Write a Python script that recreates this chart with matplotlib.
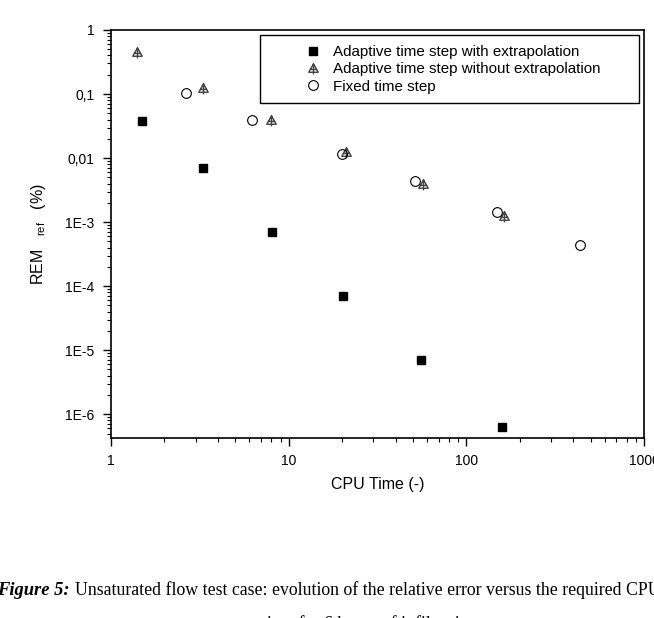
import matplotlib
matplotlib.use('Agg')
import matplotlib.pyplot as plt
from matplotlib.path import Path
from matplotlib.patches import Rectangle
from matplotlib.ticker import FixedLocator, FixedFormatter, LogLocator, NullFormatter

plt.rcParams['font.family'] = ['Liberation Sans', 'DejaVu Sans']
plt.rcParams['mathtext.default'] = 'regular'

# ________DANE_ODCZYTANE_Z_WYKRESU________________________________
cpu_extrap = [1.49, 3.3, 8.05, 20.2, 55.6, 158]
rem_extrap = [0.038, 0.0069, 7.0e-4, 7.0e-5, 7.0e-6, 6.3e-7]

cpu_no_extrap = [1.41, 3.3, 8.0, 21, 57, 163]
rem_no_extrap = [0.45, 0.123, 0.039, 0.0124, 0.0039, 0.00124]

cpu_fixed = [2.63, 6.2, 20, 51.5, 149, 437]
rem_fixed = [0.105, 0.039, 0.0115, 0.0044, 0.00144, 4.4e-4]

x_ticks = [1, 10, 100, 1000]
x_tick_labels = ['1', '10', '100', '1000']
y_ticks = [1, 0.1, 0.01, 1e-3, 1e-4, 1e-5, 1e-6]
y_tick_labels = ['1', '0,1', '0,01', '1E-3', '1E-4', '1E-5', '1E-6']

labels = ['Adaptive time step with extrapolation',
          'Adaptive time step without extrapolation',
          'Fixed time step']

# trojkat z krzyzykiem
tri_cross = Path(
    [(-1, -0.8), (1, -0.8), (0, 1), (-1, -0.8),
     (0, 1), (0, -1.25),
     (-0.75, -0.2), (0.75, -0.2)],
    [Path.MOVETO, Path.LINETO, Path.LINETO, Path.CLOSEPOLY,
     Path.MOVETO, Path.LINETO,
     Path.MOVETO, Path.LINETO])

fig = plt.figure(figsize=(6.54, 6.18), dpi=100)
ax = fig.add_axes([0.1697, 0.2917, 0.815, 0.6598])

ax.plot(cpu_extrap, rem_extrap, 's', color='black', markersize=6.3, label=labels[0])
ax.plot(cpu_no_extrap, rem_no_extrap, linestyle='none', marker=tri_cross, markersize=8.5,
        markerfacecolor='none', markeredgecolor='#444444', markeredgewidth=1.0, label=labels[1])
ax.plot(cpu_fixed, rem_fixed, 'o', markersize=7, markerfacecolor='none',
        markeredgecolor='black', markeredgewidth=0.8, label=labels[2])

ax.set_xscale('log')
ax.set_yscale('log')
ax.set_xlim(1, 1000)
ax.set_ylim(4.3e-7, 1)

ax.xaxis.set_major_locator(FixedLocator(x_ticks))
ax.xaxis.set_major_formatter(FixedFormatter(x_tick_labels))
ax.yaxis.set_major_locator(FixedLocator(y_ticks))
ax.yaxis.set_major_formatter(FixedFormatter(y_tick_labels))
ax.xaxis.set_minor_locator(LogLocator(base=10, subs=range(2, 10)))
ax.yaxis.set_minor_locator(LogLocator(base=10, subs=range(2, 10)))
ax.xaxis.set_minor_formatter(NullFormatter())
ax.yaxis.set_minor_formatter(NullFormatter())

ax.tick_params(which='major', direction='out', length=6, width=1, labelsize=10, pad=6)
ax.tick_params(which='minor', direction='out', length=3, width=0.8)
for s in ax.spines.values():
    s.set_linewidth(1.2)

ax.set_xlabel('CPU Time (-)', fontsize=11.5, labelpad=6)
ax.set_ylabel('REM   $_{ref}$   (%)', fontsize=11.5, labelpad=12)

# ramka legendy
ax.add_patch(Rectangle((0.2795, 0.821), 0.711, 0.167, transform=ax.transAxes,
                       facecolor='white', edgecolor='black', linewidth=1, zorder=3))
leg = ax.legend(loc='upper left', bbox_to_anchor=(0.3652, 0.962), frameon=False,
                fontsize=10.9, handlelength=1, handletextpad=0.8, labelspacing=0.2,
                borderpad=0, borderaxespad=0)
leg.set_zorder(4)

fig.text(-0.004, 0.037, 'Figure 5:', fontsize=13.3, family='Liberation Serif',
         fontweight='bold', fontstyle='italic')
fig.text(0.114, 0.037, 'Unsaturated flow test case: evolution of the relative error versus the required CPU',
         fontsize=12.8, family='Liberation Serif')
fig.text(0.40, -0.018, 'time for 6 hours of infiltration', fontsize=13, family='Liberation Serif')

plt.savefig('out.png', dpi=100)
